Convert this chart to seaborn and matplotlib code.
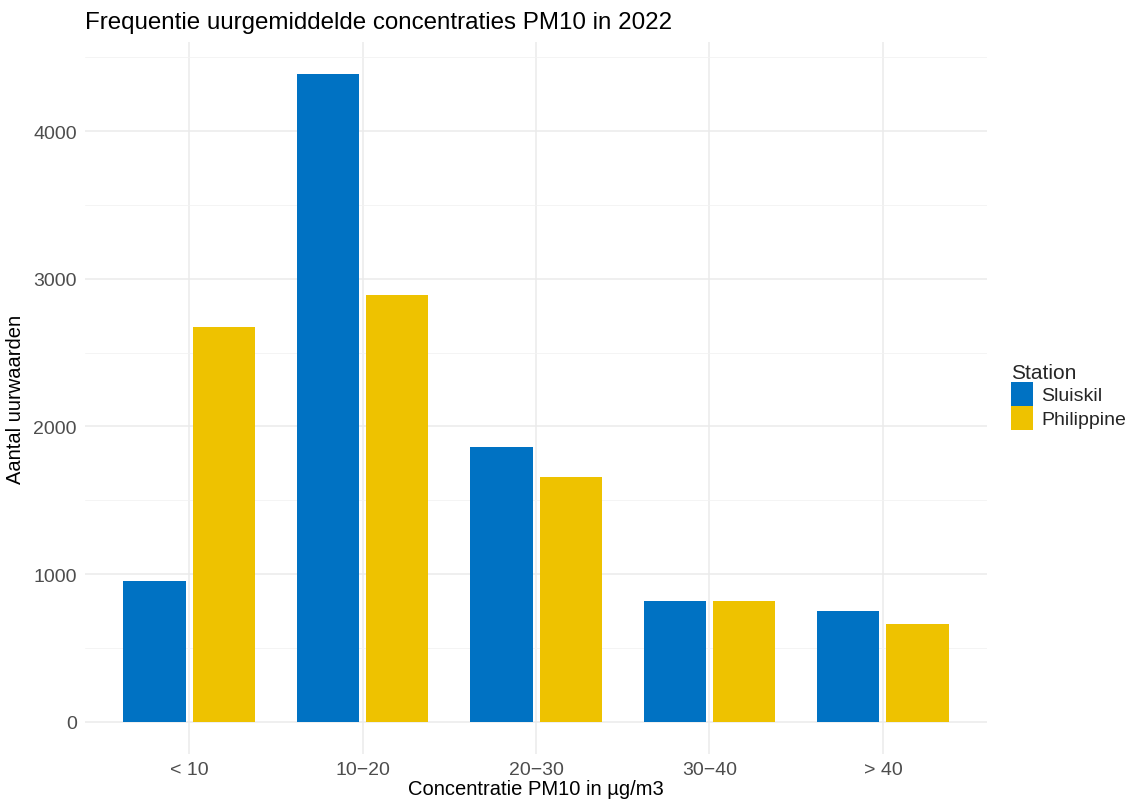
import numpy as np
import pandas as pd
import matplotlib
matplotlib.use('Agg')
import matplotlib.pyplot as plt
import seaborn as sns
from matplotlib.ticker import MultipleLocator

# data
klassen = ['< 10', '10\u221220', '20\u221230', '30\u221240', '> 40']
stations = ['Sluiskil', 'Philippine']
sluiskil = [955, 4386, 1861, 819, 751]
philippine = [2673, 2890, 1658, 817, 663]

kleuren = {'Sluiskil': '#0072C3', 'Philippine': '#EEC200'}

df = pd.DataFrame({
    'klasse': klassen * 2,
    'station': ['Sluiskil'] * len(klassen) + ['Philippine'] * len(klassen),
    'aantal': sluiskil + philippine,
})

sns.set_theme(style='white')
plt.rcParams['font.family'] = ['Liberation Sans', 'DejaVu Sans']

fig = plt.figure(figsize=(11.31, 8.03), dpi=100)
ax = fig.add_axes([0.0752, 0.0598, 0.7975, 0.8867])

sns.barplot(data=df, x='klasse', y='aantal', hue='station', order=klassen,
            hue_order=stations, palette=kleuren, width=0.8, gap=0.1,
            saturation=1, edgecolor='none', ax=ax)

ax.set_xlim(-0.6, 4.6)
ax.set_ylim(-219, 4605)
ax.yaxis.set_major_locator(MultipleLocator(1000))
ax.yaxis.set_minor_locator(MultipleLocator(500))
ax.set_axisbelow(True)
ax.grid(True, which='major', color='#EBEBEB', linewidth=1.1)
ax.grid(True, which='minor', axis='y', color='#F2F2F2', linewidth=0.6)
for s in ax.spines.values():
    s.set_visible(False)
ax.tick_params(axis='both', which='both', length=0, labelsize=14, colors='#4D4D4D', pad=6)
ax.tick_params(axis='x', pad=5)

ax.set_xlabel('Concentratie PM10 in \u00b5g/m3', fontsize=14.5, color='black', labelpad=1)
ax.set_ylabel('Aantal uurwaarden', fontsize=14.5, color='black', labelpad=6)
ax.set_title('Frequentie uurgemiddelde concentraties PM10 in 2022', fontsize=17.4,
             loc='left', x=0.0, pad=10, color='black')

leg = ax.legend(title='Station', loc='upper left', bbox_to_anchor=(0.887, 0.557),
                bbox_transform=fig.transFigure, frameon=False, fontsize=14,
                title_fontsize=15, handlelength=1.15, handleheight=1.55,
                handletextpad=0.4, labelspacing=0.0, borderaxespad=0)
leg._legend_box.align = 'left'

fig.savefig('out.png', dpi=100)
